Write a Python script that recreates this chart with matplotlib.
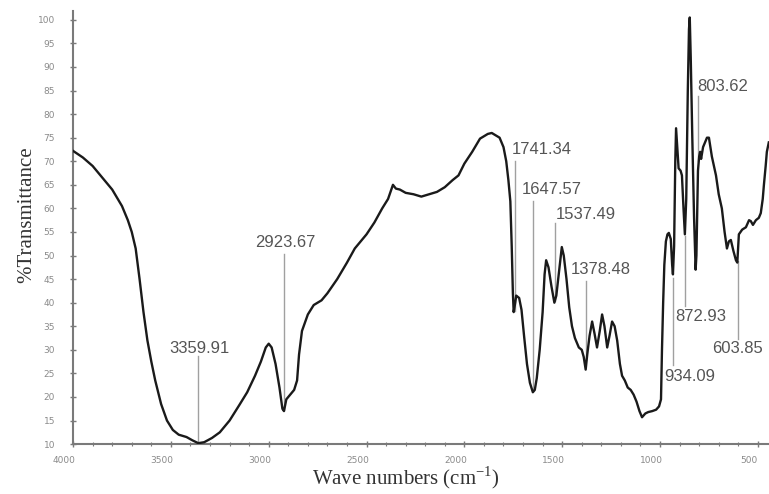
import matplotlib.pyplot as plt
from matplotlib.transforms import ScaledTranslation
from matplotlib.ticker import MultipleLocator

plt.rcParams['mathtext.fontset'] = 'custom'
plt.rcParams['mathtext.rm'] = 'Liberation Serif'

# Espectro FTIR (numero de onda, %T)
numero_onda = [4000, 3950, 3900, 3850, 3800, 3750, 3720, 3700, 3680, 3660, 3640, 3620,
               3600, 3580, 3550, 3520, 3490, 3460, 3420, 3390, 3360, 3330, 3290, 3250,
               3200, 3150, 3110, 3070, 3040, 3015, 3000, 2985, 2965, 2945, 2930, 2922,
               2910, 2890, 2870, 2855, 2845, 2830, 2800, 2770, 2730, 2700, 2650, 2600,
               2560, 2530, 2500, 2460, 2420, 2390, 2365, 2350, 2330, 2300, 2260, 2220,
               2180, 2140, 2100, 2060, 2030, 2000, 1960, 1920, 1880, 1860, 1840, 1820,
               1800, 1786, 1775, 1765, 1758, 1752, 1748, 1740, 1735, 1720, 1708, 1695,
               1680, 1665, 1650, 1640, 1630, 1615, 1600, 1590, 1582, 1570, 1555, 1540,
               1530, 1515, 1502, 1492, 1478, 1464, 1450, 1435, 1415, 1400, 1390, 1380,
               1372, 1360, 1347, 1335, 1322, 1308, 1296, 1284, 1270, 1258, 1245, 1232,
               1219, 1205, 1194, 1180, 1165, 1150, 1135, 1120, 1105, 1092, 1075, 1060,
               1040, 1020, 1005, 995, 990, 984, 978, 970, 962, 955, 945, 938,
               934, 928, 922, 918, 912, 905, 895, 888, 880, 873, 866, 858,
               852, 848, 843, 835, 826, 818, 814, 806, 800, 795, 790, 780,
               760, 750, 735, 714, 700, 684, 670, 658, 648, 638, 625, 612,
               605, 597, 580, 561, 545, 536, 525, 510, 495, 485, 475, 469,
               460, 454, 444]
transmitancia = [72.2, 70.8, 69.0, 66.5, 64.0, 60.5, 57.5, 55.0, 51.5, 45.0, 38.0, 32.0,
                 27.5, 23.5, 18.5, 15.0, 13.0, 12.0, 11.5, 10.8, 10.2, 10.4, 11.3, 12.5,
                 15.0, 18.3, 21.0, 24.5, 27.5, 30.5, 31.3, 30.5, 27.0, 22.0, 17.5, 17.0,
                 19.5, 20.5, 21.5, 23.5, 29.0, 34.0, 37.5, 39.5, 40.5, 42.0, 45.0, 48.5,
                 51.5, 53.0, 54.5, 57.0, 60.0, 62.0, 65.0, 64.2, 64.0, 63.3, 63.0, 62.5,
                 63.0, 63.5, 64.5, 66.0, 67.0, 69.5, 72.0, 74.8, 75.8, 76.0, 75.5, 75.0,
                 73.0, 70.0, 66.0, 61.5, 52.0, 42.0, 38.0, 40.0, 41.5, 41.0, 38.5, 33.0,
                 27.0, 23.0, 21.0, 21.5, 24.0, 30.0, 38.0, 46.0, 49.0, 47.5, 43.5, 40.0,
                 41.5, 47.0, 51.8, 50.0, 45.0, 39.0, 35.0, 32.5, 30.5, 30.0, 28.5, 25.8,
                 29.0, 33.0, 36.0, 33.5, 30.5, 34.0, 37.5, 35.0, 30.5, 33.0, 36.0, 35.0,
                 32.0, 27.0, 24.5, 23.5, 22.0, 21.5, 20.5, 19.0, 17.0, 15.7, 16.5, 16.8,
                 17.0, 17.3, 18.0, 19.5, 30.0, 40.0, 48.0, 53.0, 54.5, 54.8, 53.5, 48.0,
                 46.0, 52.0, 70.0, 77.0, 73.0, 68.5, 68.0, 67.0, 60.0, 54.5, 62.0, 85.0,
                 98.0, 100.5, 92.0, 75.0, 58.0, 47.0, 50.0, 68.0, 71.0, 72.0, 70.5, 73.0,
                 75.0, 75.0, 71.0, 67.0, 63.0, 60.0, 55.0, 51.5, 53.0, 53.3, 51.0, 49.0,
                 48.5, 54.5, 55.5, 56.0, 57.5, 57.3, 56.5, 57.5, 58.0, 59.0, 62.0, 65.0,
                 69.0, 72.0, 74.0]

# Picos marcados: valor, posicao do texto (onda, %T), extremos da linha (%T)
picos = ['3359.91', '2923.67', '1741.34', '1647.57', '1537.49', '1378.48',
         '934.09', '872.93', '803.62', '603.85']
texto_x = [3352, 2913, 1760, 1709, 1531, 1454, 980, 923, 811, 735]
texto_y = [30.3, 52.7, 72.4, 64.1, 58.8, 47.0, 24.4, 37.1, 85.9, 30.3]
linha_topo = [28.6, 50.4, 70.0, 61.6, 56.9, 44.7, 45.3, 54.2, 83.8, 48.9]
linha_base = [10.2, 17.2, 38.3, 21.4, 40.4, 27.8, 26.7, 39.4, 70.0, 32.4]
alinhamento = ['center', 'center', 'left', 'left', 'left', 'left',
               'left', 'left', 'left', 'left']

cinza = '#7a7a7a'

fig = plt.figure(figsize=(7.69, 4.94), dpi=100)
ax = fig.add_axes([0.095, 0.101, 0.905, 0.877])

ax.plot(numero_onda, transmitancia, color='#1a1a1a', linewidth=1.7, zorder=3)

# Linhas e rotulos dos picos
for rot, tx, ty, lt, lb, ha in zip(picos, texto_x, texto_y, linha_topo, linha_base, alinhamento):
    onda = float(rot)
    ax.plot([onda, onda], [lb, lt], color='#a0a0a0', linewidth=1.0, zorder=2)
    ax.text(tx, ty, rot, ha=ha, va='center', fontsize=12, color='#555555',
            family='Liberation Sans', zorder=4)

ax.set_xlim(4000, 443)
ax.set_ylim(10, 101.9)
ax.xaxis.set_major_locator(MultipleLocator(500))
ax.xaxis.set_minor_locator(MultipleLocator(100))
ax.yaxis.set_major_locator(MultipleLocator(5))

for lado in ['top', 'right']:
    ax.spines[lado].set_visible(False)
for lado in ['left', 'bottom']:
    ax.spines[lado].set_color(cinza)
    ax.spines[lado].set_linewidth(1.5)

ax.tick_params(axis='y', which='major', direction='inout', length=5, width=1,
               color=cinza, labelsize=6.5, labelcolor='#8a8a8a', pad=10.5)
ax.tick_params(axis='x', which='major', direction='inout', length=5, width=1,
               color=cinza, labelsize=6.5, labelcolor='#8a8a8a', pad=6)
ax.tick_params(axis='x', which='minor', direction='inout', length=3, width=0.8, color=cinza)

# rotulos do eixo x ficam um pouco a esquerda das marcas
desloca = ScaledTranslation(-9 / 100, 0, fig.dpi_scale_trans)
for lab in ax.get_xticklabels():
    lab.set_transform(lab.get_transform() + desloca)

ax.set_ylabel('%Transmittance', family='Liberation Serif', fontsize=15, color='#333333',
              va='center')
ax.yaxis.set_label_coords(-0.066, 0.53)
ax.set_xlabel('Wave numbers (cm$^{-1}$)', family='Liberation Serif', fontsize=15,
              color='#333333', va='center')
ax.xaxis.set_label_coords(0.478, -0.078)

fig.savefig('out.png', dpi=100)
